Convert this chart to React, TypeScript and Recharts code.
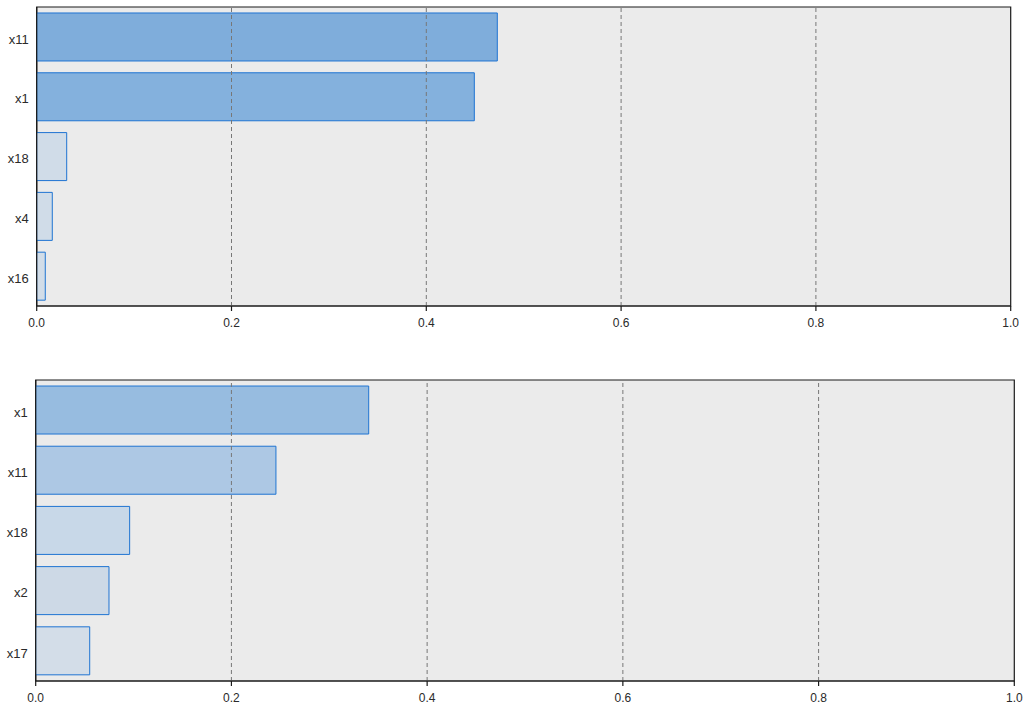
import React from 'react';
import { BarChart, Bar, XAxis, YAxis, CartesianGrid, Cell, ReferenceLine, ReferenceArea } from 'recharts';

const topCategories = ['x11', 'x1', 'x18', 'x4', 'x16'];
const topValues = [0.4729, 0.4493, 0.0308, 0.016, 0.0088];
const topFills = ['#7faddb', '#84b1dd', '#d0dce8', '#d0dce8', '#d2dde8'];

const bottomCategories = ['x1', 'x11', 'x18', 'x2', 'x17'];
const bottomValues = [0.3403, 0.2455, 0.096, 0.0749, 0.0552];
const bottomFills = ['#97bce0', '#adc8e4', '#c8d8e8', '#cdd9e6', '#d3dde8'];

const xTicks = [0, 0.2, 0.4, 0.6, 0.8, 1.0];
const gridTicks = [0.2, 0.4, 0.6, 0.8];

const FONT = '"Liberation Sans", Arial, sans-serif';
const AXIS = '#1a1a1a';

type PanelProps = {
  categories: string[];
  values: number[];
  fills: string[];
  margin: { top: number; right: number; bottom: number; left: number };
};

function Panel({ categories, values, fills, margin }: PanelProps) {
  const data = categories.map((name, i) => ({ name, value: values[i] }));
  return (
    <BarChart
      width={1028}
      height={354}
      data={data}
      layout="vertical"
      margin={margin}
      barCategoryGap="10%"
      style={{ fontFamily: FONT }}
    >
      <CartesianGrid horizontal={false} vertical={false} fill="#ebebeb" stroke="none" />
      <XAxis
        type="number"
        domain={[0, 1]}
        ticks={xTicks}
        tickFormatter={(v: number) => v.toFixed(1)}
        height={25}
        axisLine={{ stroke: AXIS, strokeWidth: 1.2 }}
        tickLine={{ stroke: AXIS, strokeWidth: 1.2 }}
        tickSize={5}
        tickMargin={7}
        tick={{ fill: '#2a2a2a', fontSize: 12 }}
        allowDataOverflow
      />
      <YAxis
        type="category"
        dataKey="name"
        width={30}
        axisLine={{ stroke: AXIS, strokeWidth: 1.2 }}
        tickLine={false}
        tickSize={6}
        tickMargin={2}
        tick={{ fill: '#2a2a2a', fontSize: 13, dy: 2 }}
      />
      <Bar dataKey="value" stroke="#1f74d2" strokeWidth={1} isAnimationActive={false}>
        {data.map((d, i) => (
          <Cell key={d.name} fill={fills[i]} />
        ))}
      </Bar>
      {gridTicks.map((t) => (
        <ReferenceLine key={t} x={t} stroke="#777" strokeDasharray="4 3" strokeWidth={1} />
      ))}
      <ReferenceArea x1={0} x2={1} fill="none" fillOpacity={0} stroke={AXIS} strokeWidth={1.2} ifOverflow="extendDomain" />
    </BarChart>
  );
}

export default function App() {
  return (
    <div style={{ position: 'absolute', left: 0, top: 0, width: 1028, height: 708, background: '#fff' }}>
      <Panel
        categories={topCategories}
        values={topValues}
        fills={topFills}
        margin={{ top: 7, right: 17.3, bottom: 23, left: 6.7 }}
      />
      <Panel
        categories={bottomCategories}
        values={bottomValues}
        fills={bottomFills}
        margin={{ top: 26, right: 13.7, bottom: 2, left: 5.7 }}
      />
    </div>
  );
}
